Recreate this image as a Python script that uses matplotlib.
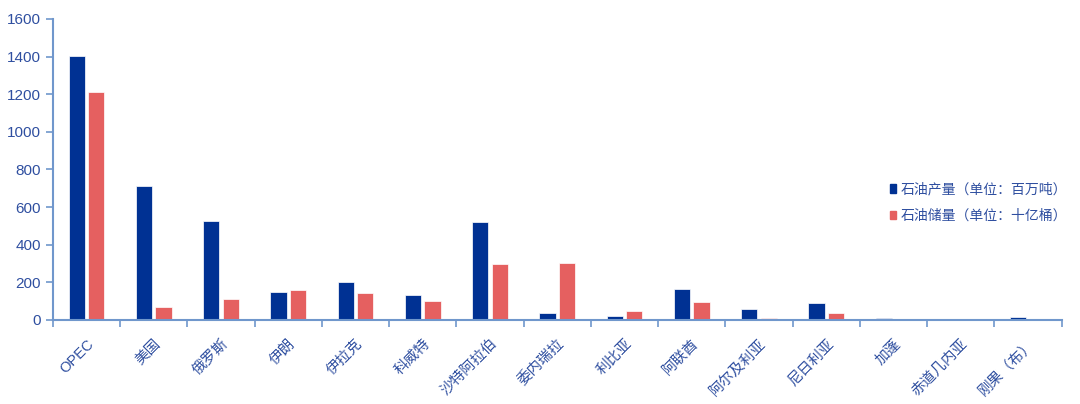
import numpy as np
import matplotlib
matplotlib.use('Agg')
import matplotlib.pyplot as plt
from matplotlib.patches import Patch

plt.rcParams['font.family'] = ['Liberation Sans', 'Noto Sans CJK SC', 'DejaVu Sans']

# 数据
categories = ['OPEC', '美国', '俄罗斯', '伊朗', '伊拉克', '科威特', '沙特阿拉伯',
              '委内瑞拉', '利比亚', '阿联酋', '阿尔及利亚', '尼日利亚', '加蓬',
              '赤道几内亚', '刚果（布）']
production = [1404, 713, 527, 149, 202, 131, 521, 36, 20, 167, 57, 92, 10, 1, 14]
reserves = [1213, 69, 112, 160, 144, 101, 296, 303, 48, 96, 12, 37, 2, 1, 2]
labels = ['石油产量（单位：百万吨）', '石油储量（单位：十亿桶）']

BLUE = '#003193'
RED = '#e56060'
AXIS = '#7097cc'
TEXT = '#2f4fa0'

fig = plt.figure(figsize=(10.8, 4.04), dpi=100)
ax = fig.add_axes([0.049, 0.208, 0.934, 0.745])

x = np.arange(len(categories))
w = 0.24
ax.bar(x - 0.145, production, w, color=BLUE, edgecolor='white', linewidth=0.5)
ax.bar(x + 0.145, reserves, w, color=RED, edgecolor='white', linewidth=0.5)

ax.set_xlim(-0.5, len(categories) - 0.5)
ax.set_ylim(0, 1600)
ax.set_yticks(range(0, 1601, 200))

ax.set_xticks(x)
ax.set_xticklabels(categories, rotation=45, ha='right', rotation_mode='anchor',
                   fontsize=10.5, color=TEXT)
ax.set_xticks(np.arange(-0.5, len(categories)), minor=True)
ax.tick_params(axis='x', which='major', length=0, pad=12)
ax.tick_params(axis='x', which='minor', length=5, color=AXIS, width=1.2)
ax.tick_params(axis='y', length=5, color=AXIS, width=1.2, labelsize=11,
               labelcolor=TEXT)

for s in ['top', 'right']:
    ax.spines[s].set_visible(False)
for s in ['left', 'bottom']:
    ax.spines[s].set_color(AXIS)
    ax.spines[s].set_linewidth(1.5)

handles = [Patch(color=BLUE), Patch(color=RED)]
leg = ax.legend(handles, labels, loc='center left', bbox_to_anchor=(0.817, 0.39),
                frameon=False, handlelength=0.5, handleheight=0.6,
                handletextpad=0.3, labelspacing=0.9, fontsize=10)
for t in leg.get_texts():
    t.set_color(TEXT)

fig.savefig('out.png', dpi=100)
